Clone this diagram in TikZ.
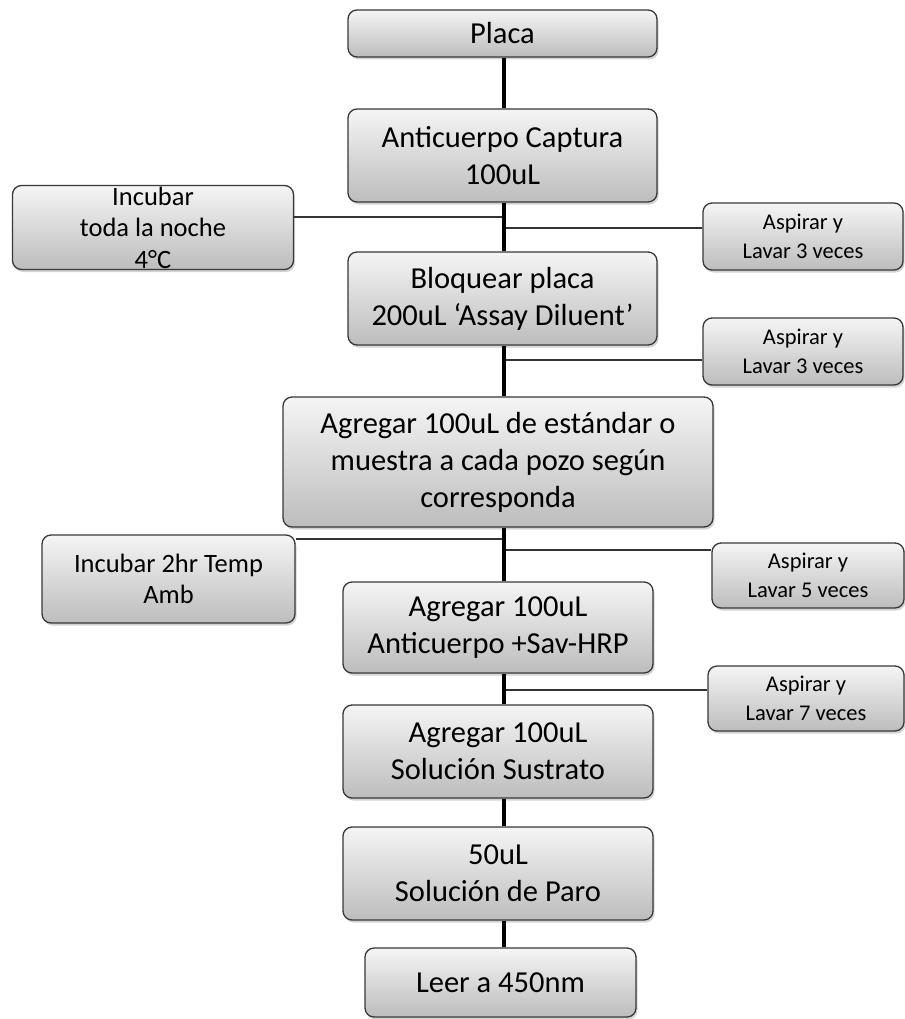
\documentclass[tikz,border=0pt]{standalone}
\usepackage{fontspec}
\setmainfont{Carlito}
\usetikzlibrary{shadows}
\tikzset{>=stealth,
  paso/.style={draw=black!78, line width=1.3pt, rounded corners=9pt,
    top color=black!4, bottom color=black!26,
    drop shadow={shadow xshift=1.5pt, shadow yshift=-2.5pt, opacity=0.35},
    align=center, inner sep=0pt, font=\fontsize{30.5}{37}\selectfont},
  lado/.style={paso, font=\fontsize{26.5}{31.5}\selectfont},
  lavar/.style={paso, font=\fontsize{22.5}{29}\selectfont},
  tronco/.style={line width=3.8pt},
  rama/.style={line width=1.2pt, draw=black!80},
}

\begin{document}
\begin{tikzpicture}[x=1pt, y=-1pt]
    \useasboundingbox (0,0) rectangle (904,1019);
    \node[paso, minimum width=309pt, minimum height=47pt] (placa) at (502.5,33.5) {Placa};
    \node[paso, minimum width=309pt, minimum height=93pt] (capt) at (502.5,155.5) {Anticuerpo Captura\\100uL};
    \node[paso, minimum width=309pt, minimum height=93pt] (bloq) at (502.5,298.5) {Bloquear placa\\200uL ‘Assay Diluent’};
    \node[paso, minimum width=430pt, minimum height=130pt] (estd) at (498,462) {Agregar 100uL de estándar o\\muestra a cada pozo según\\corresponda};
    \node[paso, minimum width=310pt, minimum height=91pt] (conj) at (498,627.5) {Agregar 100uL\\Anticuerpo +Sav-HRP};
    \node[paso, minimum width=310pt, minimum height=93pt] (sust) at (498,751.5) {Agregar 100uL\\Solución Sustrato};
    \node[paso, minimum width=310pt, minimum height=93pt] (paro) at (498,873.5) {50uL\\Solución de Paro};
    \node[paso, minimum width=271pt, minimum height=69pt] (leer) at (500.5,982.5) {Leer a 450nm};
    \node[lado, minimum width=281pt, minimum height=84pt] (incA) at (153,227.5)
        {\smash{\raisebox{-9pt}{\begin{tabular}{@{}c@{}}Incubar\\toda la noche\\4°C\end{tabular}}}};
    \node[lado, minimum width=253pt, minimum height=88pt] (incB) at (168.5,579) {Incubar 2hr Temp\\Amb};
    \node[lavar, minimum width=200pt, minimum height=67pt] (asp1) at (803,236.5) {Aspirar y\\Lavar 3 veces};
    \node[lavar, minimum width=200pt, minimum height=67pt] (asp2) at (803,351.5) {Aspirar y\\Lavar 3 veces};
    \node[lavar, minimum width=192pt, minimum height=65pt] (asp3) at (808,575.5) {Aspirar y\\Lavar 5 veces};
    \node[lavar, minimum width=196pt, minimum height=65pt] (asp4) at (806,698.5) {Aspirar y\\Lavar 7 veces};
    \coordinate (eje) at (504,0);
    \coordinate (jA) at (504,217);
    \coordinate (jB) at (504,228);
    \coordinate (jC) at (504,360);
    \coordinate (jD) at (504,539);
    \coordinate (jE) at (504,550);
    \coordinate (jF) at (504,690);
    \draw[rama] (jA) -- (jA -| incA.east);
    \draw[rama] (jB) -- (jB -| asp1.west);
    \draw[rama] (jC) -- (jC -| asp2.west);
    \draw[rama] (jD) -- (jD -| incB.east);
    \draw[rama] (jE) -- (jE -| asp3.west);
    \draw[rama] (jF) -- (jF -| asp4.west);
    \foreach \a/\b in {placa/capt, capt/bloq, bloq/estd, estd/conj, conj/sust, sust/paro, paro/leer}
        \draw[tronco] (\a.south -| eje) -- (\b.north -| eje);
\end{tikzpicture}
\end{document}
